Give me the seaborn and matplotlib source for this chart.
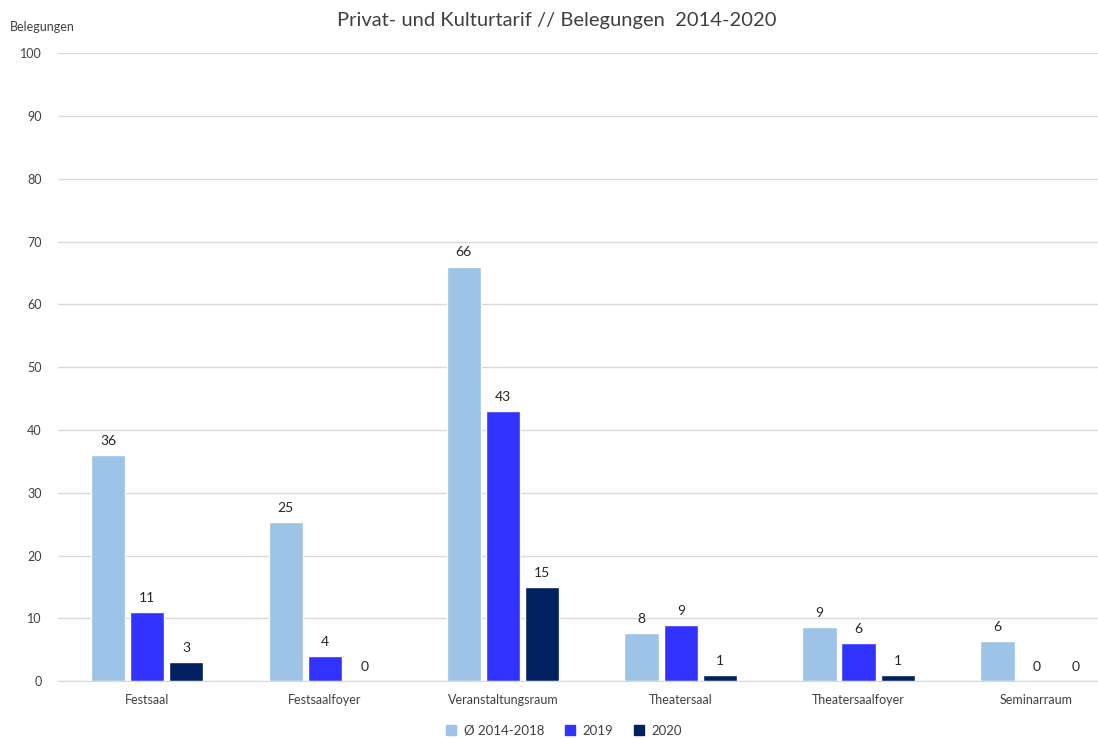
import pandas as pd
import matplotlib.pyplot as plt
import seaborn as sns
from matplotlib.lines import Line2D

# Daten
raeume = ['Festsaal', 'Festsaalfoyer', 'Veranstaltungsraum', 'Theatersaal', 'Theatersaalfoyer', 'Seminarraum']
serien = ['Ø 2014-2018', '2019', '2020']
avg_2014_2018 = [36, 25.3, 66, 7.6, 8.6, 6.4]
jahr_2019 = [11, 4, 43, 8.9, 6, 0]
jahr_2020 = [3, 0, 15, 1, 1, 0]

farben = {'Ø 2014-2018': '#9DC3E6', '2019': '#3333FF', '2020': '#002060'}

df = pd.DataFrame({
    'Raum': raeume * 3,
    'Serie': [serien[0]] * 6 + [serien[1]] * 6 + [serien[2]] * 6,
    'Belegungen': avg_2014_2018 + jahr_2019 + jahr_2020,
})

sns.set_style('white')
plt.rcParams['font.family'] = ['Lato', 'DejaVu Sans']

fig = plt.figure(figsize=(10.98, 7.38), dpi=100)
# Achse reicht rechts über den Bildrand hinaus (wie im Original abgeschnitten)
ax = fig.add_axes([0.053, 0.077, 0.972, 0.851])

sns.barplot(df, x='Raum', y='Belegungen', hue='Serie', hue_order=serien, order=raeume,
            palette=farben, saturation=1, width=0.66, gap=0.12, edgecolor='white',
            linewidth=1, legend=False, ax=ax)

for cont in ax.containers:
    ax.bar_label(cont, labels=[f'{int(b.get_height() + 0.5)}' for b in cont],
                 padding=6, fontsize=10, color='#262626')

ax.set_ylim(0, 100)
ax.set_yticks(range(0, 101, 10))
ax.set_xlim(-0.5, len(raeume) - 0.5)
ax.grid(axis='y', color='#D9D9D9', linewidth=1)
ax.set_axisbelow(True)
for s in ['top', 'right', 'left']:
    ax.spines[s].set_visible(False)
ax.spines['bottom'].set_color('#D9D9D9')
ax.tick_params(axis='both', length=0, labelsize=9, labelcolor='#404040')
ax.tick_params(axis='x', pad=9)
ax.tick_params(axis='y', pad=12)
ax.set_xlabel('')
ax.set_ylabel('')

fig.text(0.009, 0.963, 'Belegungen', fontsize=9, color='#404040', va='center')
fig.text(0.507, 0.972, 'Privat- und Kulturtarif // Belegungen  2014-2020',
         fontsize=14.5, color='#404040', ha='center', va='center')

handles = [Line2D([], [], marker='s', linestyle='', markersize=7, color=farben[s]) for s in serien]
fig.legend(handles, serien, loc='center', bbox_to_anchor=(0.51, 0.01), ncol=3,
           frameon=False, fontsize=9.5, handletextpad=0.0, columnspacing=0.9,
           labelcolor='#404040')

fig.savefig('out.png', dpi=100)
